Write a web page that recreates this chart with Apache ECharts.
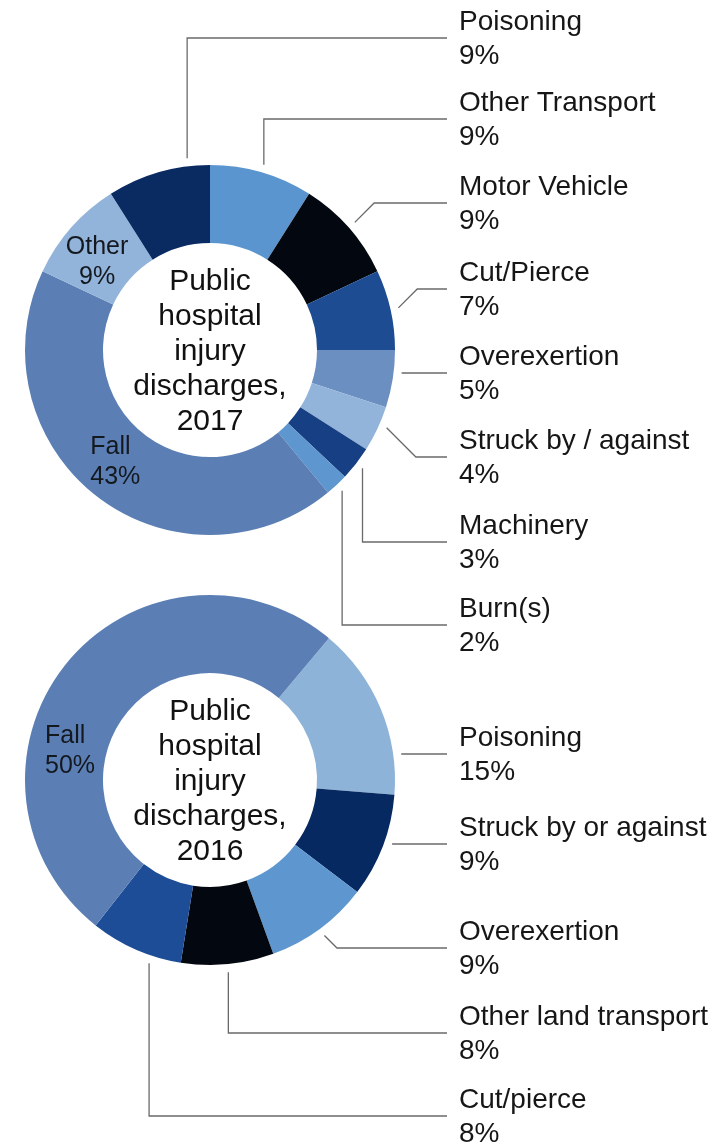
<!DOCTYPE html>
<html>
<head>
<meta charset="utf-8">
<script src="https://cdn.jsdelivr.net/npm/echarts@6/dist/echarts.min.js"></script>
<style>
  html, body { margin: 0; padding: 0; background: #ffffff; }
  #chart { width: 720px; height: 1144px; }
</style>
</head>
<body>
<div id="chart"></div>
<script>
// Shares (%) of public hospital injury discharges by cause, listed clockwise
const categories2017 = ['Other Transport', 'Motor Vehicle', 'Cut/Pierce', 'Overexertion',
  'Struck by / against', 'Machinery', 'Burn(s)', 'Fall', 'Other', 'Poisoning'];
const shares2017 = [9, 9, 7, 5, 4, 3, 2, 43, 9, 9];

const categories2016 = ['Poisoning', 'Struck by or against', 'Overexertion',
  'Other land transport', 'Cut/pierce', 'Fall'];
const shares2016 = [15, 9, 9, 8, 8, 50];

const centerTitle2017 = 'Public\nhospital\ninjury\ndischarges,\n2017';
const centerTitle2016 = 'Public\nhospital\ninjury\ndischarges,\n2016';

// Slice colours, same order as the categories
const colors2017 = ['#5b95cf', '#03070f', '#1d4c93', '#6b8fc1', '#93b4da',
  '#173f83', '#5e96cf', '#5b7fb4', '#93b4da', '#0a2a62'];
const colors2016 = ['#8db3d8', '#062962', '#5e97d0', '#03070f', '#1c4d96', '#5b7fb4'];

const FONT = "'Liberation Sans', Arial, Helvetica, sans-serif";
const RING = { inner: 107, outer: 185, gap: 8 };
const LINE_END_X = 447;
const TEXT_X = 459;

// Label placement: 'in' = inside the ring; 'h' / 'v' / 'd' = outside label on the right,
// reached by a horizontal, vertical-then-horizontal or diagonal-then-horizontal leader.
// 'at' is the position along the slice (0..1), 'y' the height of the horizontal run.
const donuts = [
  {
    cx: 210, cy: 350, startAngle: 90, title: centerTitle2017, titleY: 352,
    names: categories2017, values: shares2017, colors: colors2017,
    place: {
      'Other Transport':     { route: 'v', at: 0.5, y: 119 },
      'Motor Vehicle':       { route: 'd', at: 0.5, y: 203 },
      'Cut/Pierce':          { route: 'd', at: 0.5, y: 289 },
      'Overexertion':        { route: 'h', y: 373 },
      'Struck by / against': { route: 'd', at: 0.4, y: 457 },
      'Machinery':           { route: 'v', at: 0.5, y: 542 },
      'Burn(s)':             { route: 'v', at: 0.5, y: 625 },
      'Fall':                { route: 'in', at: 0.515, r: 147, align: 'left' },
      'Other':               { route: 'in', at: 0.39, r: 143, align: 'center' },
      'Poisoning':           { route: 'v', at: 0.79, y: 38 }
    }
  },
  {
    cx: 210, cy: 780, startAngle: 50, title: centerTitle2016, titleY: 782,
    names: categories2016, values: shares2016, colors: colors2016,
    place: {
      'Poisoning':            { route: 'h', y: 754 },
      'Struck by or against': { route: 'h', y: 844 },
      'Overexertion':         { route: 'd', at: 0.5, y: 948 },
      'Other land transport': { route: 'v', at: 0.5, y: 1033 },
      'Cut/pierce':           { route: 'v', at: 0.32, y: 1116 },
      'Fall':                 { route: 'in', at: 0.35, r: 143, align: 'left' }
    }
  }
];

// Slice extents as clock angles (degrees clockwise from 12 o'clock)
function sliceAngles(values, startAngle) {
  const total = values.reduce((a, b) => a + b, 0);
  let acc = 90 - startAngle;
  return values.map(v => {
    const a0 = acc;
    acc += v / total * 360;
    return [a0, acc];
  });
}
function polar(cx, cy, r, clockDeg) {
  const t = clockDeg * Math.PI / 180;
  return [cx + r * Math.sin(t), cy - r * Math.cos(t)];
}

function makeLayout(d) {
  const angles = sliceAngles(d.values, d.startAngle);
  const R = RING.outer + RING.gap;
  return function (params) {
    const cfg = d.place[d.names[params.dataIndex]];
    const [a0, a1] = angles[params.dataIndex];
    if (cfg.route === 'in') {
      const p = polar(d.cx, d.cy, cfg.r, a0 + (a1 - a0) * cfg.at);
      if (cfg.align === 'left') {
        return { x: p[0] - params.labelRect.width / 2, y: p[1], align: 'left', verticalAlign: 'middle' };
      }
      return { x: p[0], y: p[1], align: 'center', verticalAlign: 'middle' };
    }
    let start, elbow;
    if (cfg.route === 'h') {
      const dy = cfg.y - d.cy;
      start = [d.cx + Math.sqrt(R * R - dy * dy), cfg.y];
      elbow = [(start[0] + LINE_END_X) / 2, cfg.y];
    } else {
      start = polar(d.cx, d.cy, R, a0 + (a1 - a0) * cfg.at);
      const run = cfg.route === 'd' ? Math.abs(cfg.y - start[1]) : 0;
      elbow = [start[0] + run, cfg.y];
    }
    return {
      x: TEXT_X, y: cfg.y + 1, align: 'left', verticalAlign: 'middle',
      labelLinePoints: [start, elbow, [LINE_END_X, cfg.y]]
    };
  };
}

function makeSeries(d) {
  const data = d.names.map((name, i) => {
    const item = { name: name, value: d.values[i], itemStyle: { color: d.colors[i] } };
    if (d.place[name].route === 'in') {
      item.label = { position: 'inside', fontSize: 25, lineHeight: 30, color: '#14181f' };
      item.labelLine = { show: false };
    }
    return item;
  });
  return {
    type: 'pie',
    center: [d.cx, d.cy],
    radius: [RING.inner, RING.outer],
    startAngle: d.startAngle,
    clockwise: true,
    avoidLabelOverlap: false,
    silent: true,
    itemStyle: { borderWidth: 0 },
    label: {
      show: true,
      position: 'outside',
      formatter: '{b}\n{c}%',
      fontFamily: FONT,
      fontSize: 28,
      lineHeight: 34,
      color: '#161616',
      overflow: 'none'
    },
    labelLine: {
      show: true,
      length: 15,
      length2: 15,
      lineStyle: { color: '#6a6a6a', width: 1.3 }
    },
    labelLayout: makeLayout(d),
    data: data
  };
}

const chart = echarts.init(document.getElementById('chart'), null, { renderer: 'canvas' });
chart.setOption({
  animation: false,
  backgroundColor: '#ffffff',
  title: donuts.map(d => ({
    text: d.title,
    left: d.cx,
    top: d.titleY,
    padding: 0,
    textAlign: 'center',
    textVerticalAlign: 'middle',
    textStyle: { fontFamily: FONT, fontSize: 30, lineHeight: 35, fontWeight: 'normal', color: '#111111' }
  })),
  series: donuts.map(makeSeries)
});
</script>
</body>
</html>
